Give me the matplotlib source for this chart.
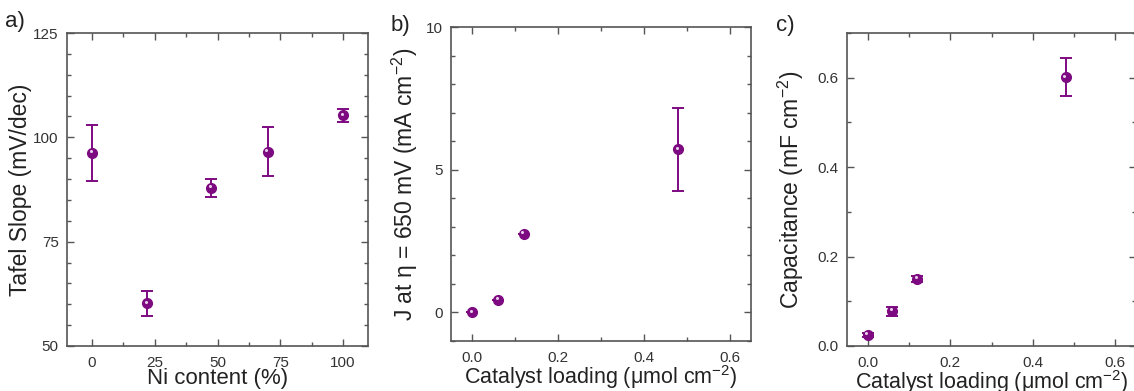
import matplotlib
matplotlib.use('Agg')
import matplotlib.pyplot as plt
import matplotlib.transforms as mtransforms
from matplotlib.ticker import MultipleLocator

plt.rcParams['font.family'] = ['Liberation Sans', 'DejaVu Sans']
plt.rcParams['mathtext.fontset'] = 'custom'
plt.rcParams['mathtext.rm'] = 'Liberation Sans'
plt.rcParams['mathtext.it'] = 'Liberation Sans:italic'

# a) Tafel slope vs Ni content
ni_content = [0, 22, 47.5, 70, 100]
tafel_slope = [96.3, 60.2, 87.9, 96.5, 105.3]
tafel_low = [89.6, 57.3, 85.8, 90.8, 103.6]
tafel_high = [103.0, 63.2, 89.9, 102.4, 106.9]

# b) current density at 650 mV overpotential vs loading
loading = [0.0, 0.06, 0.12, 0.48]
current = [0.0, 0.45, 2.75, 5.72]
current_err = [0.0, 0.0, 0.0, 1.45]

# c) capacitance vs loading
capacitance = [0.025, 0.078, 0.150, 0.601]
capacitance_err = [0.004, 0.010, 0.007, 0.042]

PURPLE = '#7d0a80'
SPINE = '#555555'
TEXT = '#222222'
YLABEL_SIZE = 16.5
XLABEL_SIZE = 15.5
LOADING_LABEL = 'Catalyst loading (μmol cm$^{-2}$)'


def style_axes(ax):
    for s in ax.spines.values():
        s.set_color(SPINE)
        s.set_linewidth(1.2)
    ax.tick_params(which='both', direction='in', top=True, right=True,
                   color=SPINE, labelcolor='#333333', labelsize=11)
    ax.tick_params(which='major', length=5, width=1.0, pad=6)
    ax.tick_params(which='minor', length=3, width=1.0)
    ax.tick_params(axis='x', which='major', pad=7)


def plot_points(ax, x, y, yerr):
    ax.errorbar(x, y, yerr=yerr, fmt='o', color=PURPLE, ms=7, mec=PURPLE,
                elinewidth=1.4, capsize=4, capthick=1.4, zorder=3)
    # small highlight to give the markers a shaded look
    shift = mtransforms.offset_copy(ax.transData, fig=ax.figure, x=-1.0, y=1.2, units='points')
    ax.plot(x, y, 'o', ms=2.2, color='#e8d0ea', mec='none', transform=shift, zorder=4)


fig = plt.figure(figsize=(11.34, 3.91), dpi=100)
ax_a = fig.add_axes([0.0591, 0.1151, 0.2654, 0.8005])
ax_b = fig.add_axes([0.3977, 0.1279, 0.2646, 0.8030])
ax_c = fig.add_axes([0.7469, 0.1151, 0.2549, 0.8005])

# panel a
err_a = [[y - lo for y, lo in zip(tafel_slope, tafel_low)],
         [hi - y for y, hi in zip(tafel_slope, tafel_high)]]
plot_points(ax_a, ni_content, tafel_slope, err_a)
ax_a.set_xlim(-10, 110)
ax_a.set_ylim(50, 125)
ax_a.xaxis.set_major_locator(MultipleLocator(25))
ax_a.xaxis.set_minor_locator(MultipleLocator(12.5))
ax_a.yaxis.set_major_locator(MultipleLocator(25))
ax_a.yaxis.set_minor_locator(MultipleLocator(5))
ax_a.set_xlabel('Ni content (%)', fontsize=16, color=TEXT, labelpad=-1)
ax_a.set_ylabel('Tafel Slope (mV/dec)', fontsize=YLABEL_SIZE, color=TEXT, labelpad=1)

# panel b
plot_points(ax_b, loading, current, current_err)
ax_b.set_xlim(-0.05, 0.65)
ax_b.set_ylim(-1, 10)
ax_b.xaxis.set_major_locator(MultipleLocator(0.2))
ax_b.xaxis.set_minor_locator(MultipleLocator(0.1))
ax_b.yaxis.set_major_locator(MultipleLocator(5))
ax_b.yaxis.set_minor_locator(MultipleLocator(1))
ax_b.set_xlabel(LOADING_LABEL, fontsize=XLABEL_SIZE, color=TEXT, labelpad=-1)
ax_b.set_ylabel('J at η = 650 mV (mA cm$^{-2}$)', fontsize=YLABEL_SIZE, color=TEXT, labelpad=4)

# panel c
plot_points(ax_c, loading, capacitance, capacitance_err)
ax_c.set_xlim(-0.05, 0.65)
ax_c.set_ylim(0, 0.7)
ax_c.xaxis.set_major_locator(MultipleLocator(0.2))
ax_c.xaxis.set_minor_locator(MultipleLocator(0.1))
ax_c.yaxis.set_major_locator(MultipleLocator(0.2))
ax_c.yaxis.set_minor_locator(MultipleLocator(0.1))
ax_c.set_xlabel(LOADING_LABEL, fontsize=XLABEL_SIZE, color=TEXT, labelpad=-1)
ax_c.set_ylabel('Capacitance (mF cm$^{-2}$)', fontsize=YLABEL_SIZE, color=TEXT, labelpad=8)

for ax in (ax_a, ax_b, ax_c):
    style_axes(ax)

fig.text(0.004, 0.93, 'a)', fontsize=16, color=TEXT)
fig.text(0.344, 0.92, 'b)', fontsize=16, color=TEXT)
fig.text(0.684, 0.92, 'c)', fontsize=16, color=TEXT)

fig.savefig('out.png', dpi=100, facecolor='white')
